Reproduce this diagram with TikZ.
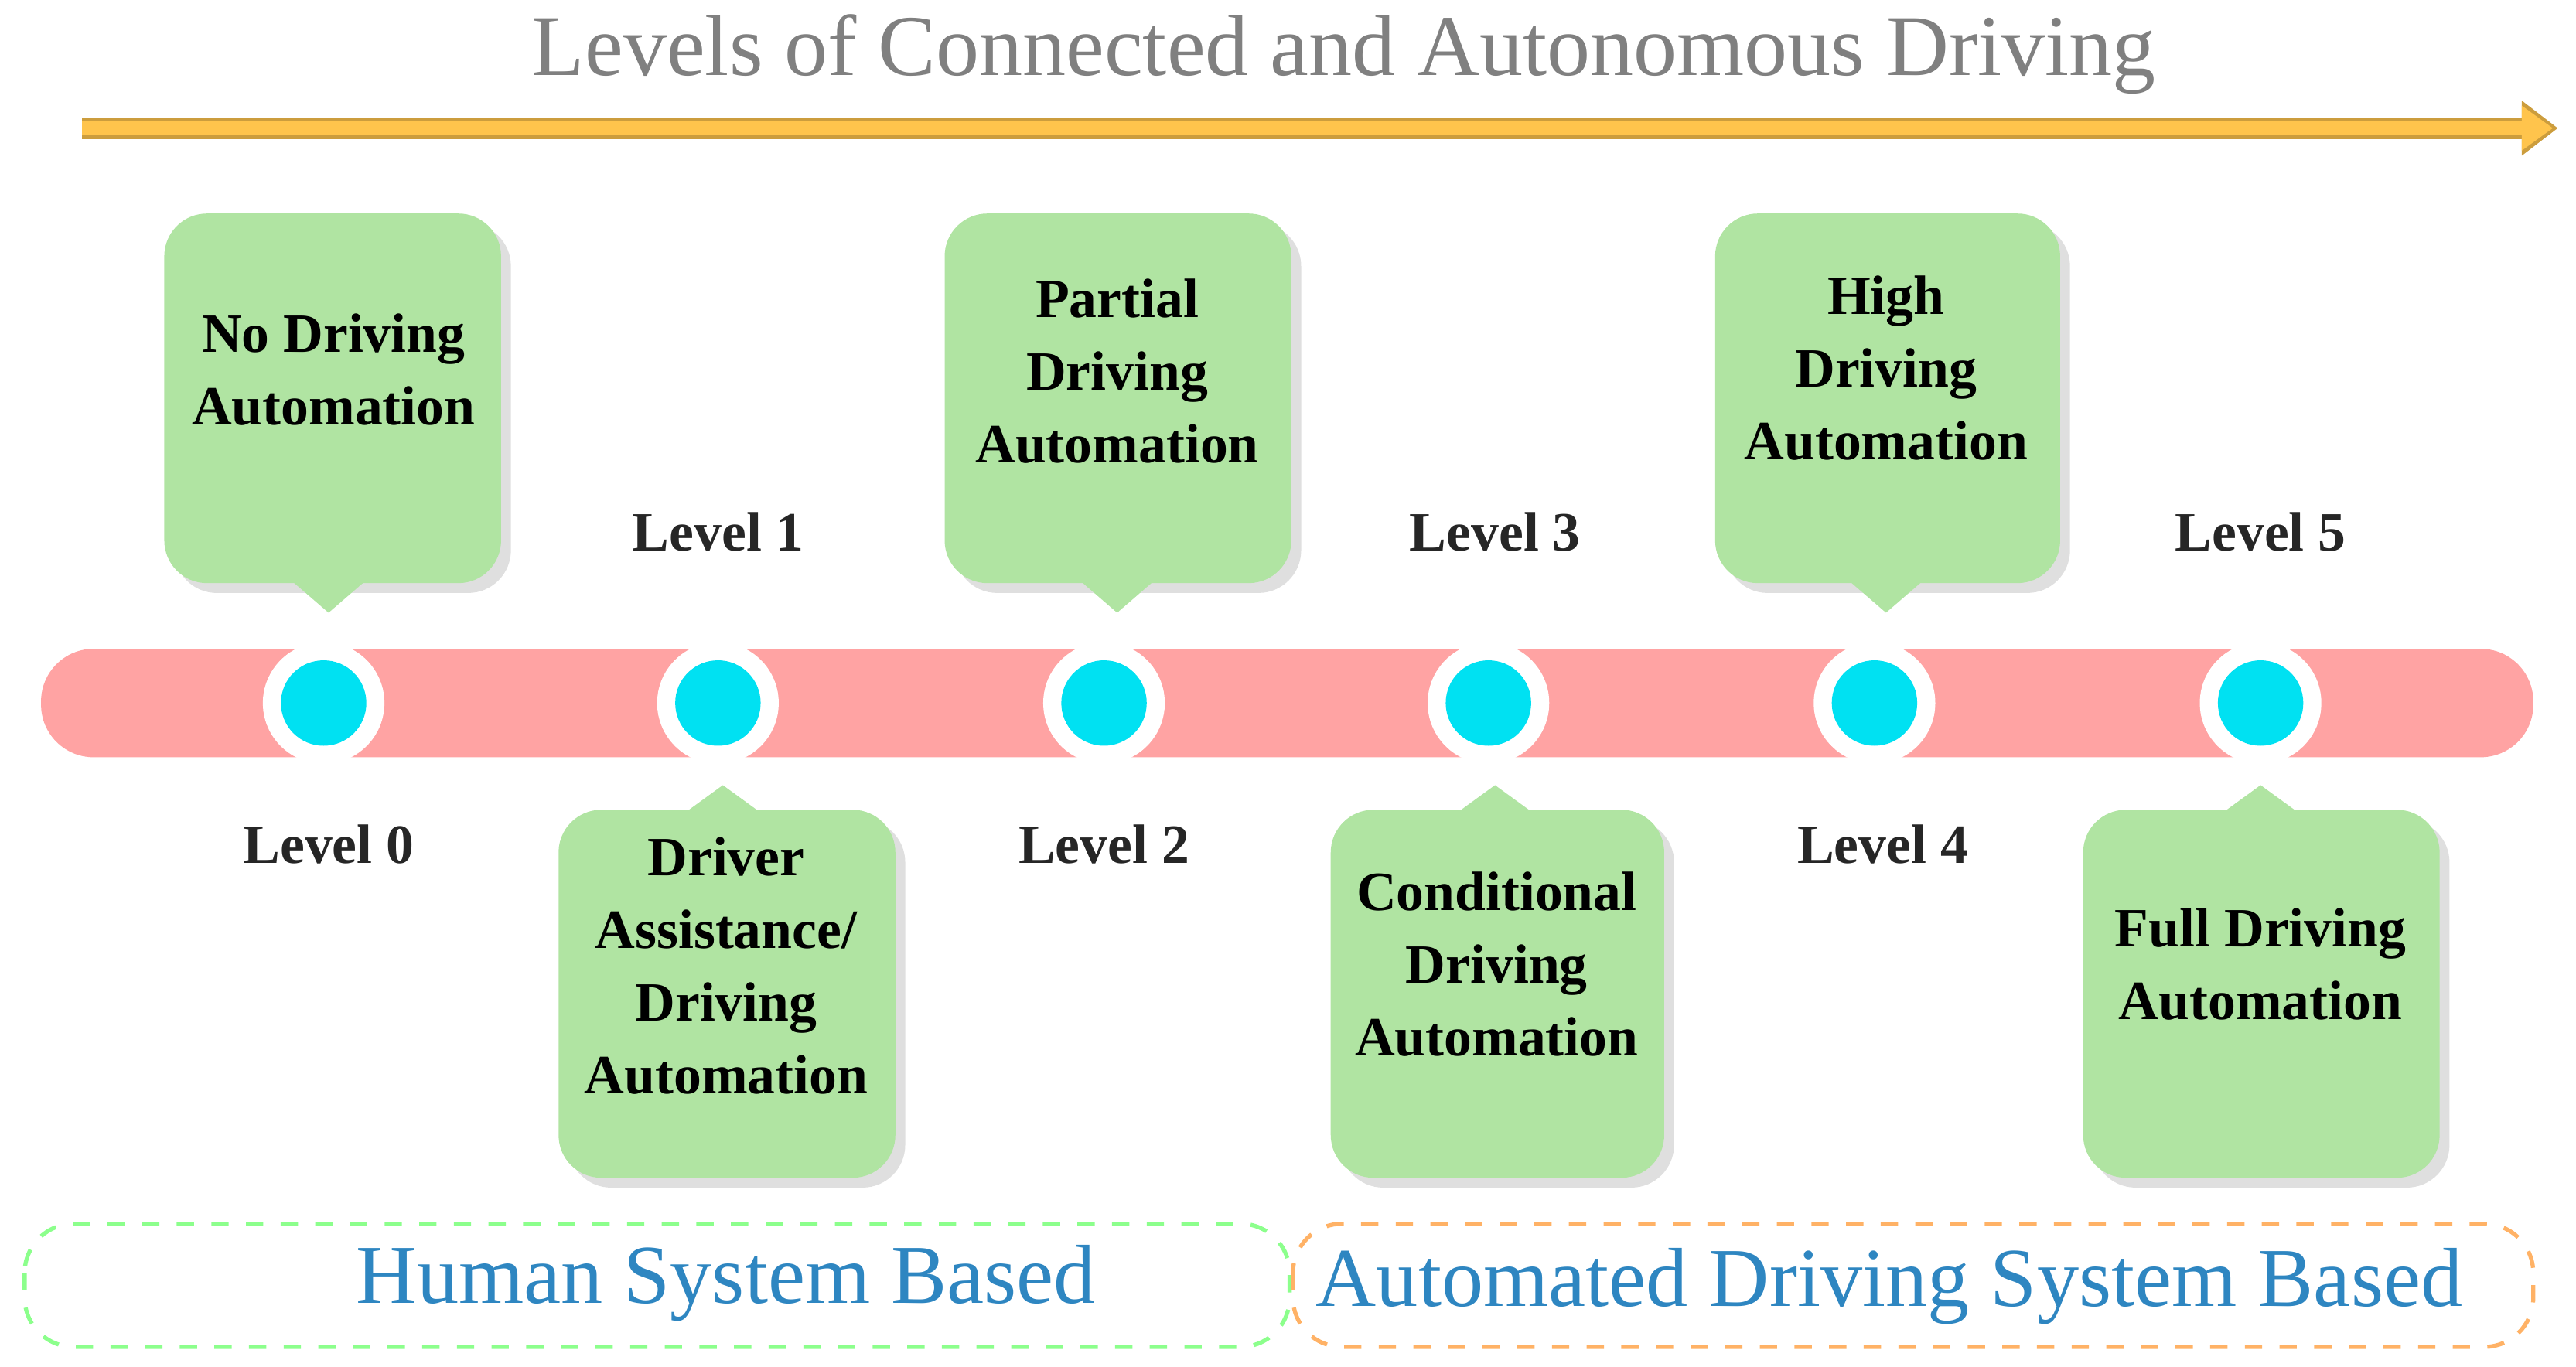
\documentclass[tikz,border=0pt]{standalone}
\usepackage{fontspec}
\setmainfont{Liberation Serif}
\usetikzlibrary{shadows,arrows.meta}
\definecolor{boxg}{HTML}{B0E4A2}
\definecolor{barp}{HTML}{FFA3A3}
\definecolor{cy}{HTML}{00E1F2}
\definecolor{arr}{HTML}{FFC44C}
\definecolor{txtb}{HTML}{2E86C1}
\tikzset{
 box/.style={fill=boxg, draw=none, drop shadow={opacity=0.25,shadow xshift=0.6mm,shadow yshift=-0.6mm}},
 btxt/.style={font=\fontsize{9.6}{10.3}\selectfont\bfseries, align=center, text=black},
 lvl/.style={font=\fontsize{9.6}{10.3}\selectfont\bfseries, text=black!85},
 ring/.style={circle, fill=white, minimum size=7.4mm, inner sep=0pt},
 dot/.style={circle, fill=cy, minimum size=5.2mm, inner sep=0pt},
 base/.style={font=\fontsize{14.5}{16}\selectfont, text=txtb}
}
\begin{document}
\begin{tikzpicture}[x=0.1mm,y=-0.1mm]
\useasboundingbox (0,0) rectangle (1568,832);
\node[font=\fontsize{15}{17}\selectfont, text=black!50] (title) at (818,33) {Levels of Connected and Autonomous Driving};
\coordinate (a1) at (50,78); \coordinate (a2) at (1557,78);
\draw[draw=arr!80!black, line width=1.3mm, -{Triangle[length=2.2mm,width=3.2mm]}] (a1) -- (a2);
\draw[draw=arr, line width=0.9mm, -{Triangle[length=1.9mm,width=2.6mm]}] (a1) -- ([xshift=-0.3mm]a2);
% bar
\fill[barp, rounded corners=3.2mm] (25,395) rectangle (1542,461);
% circles
\foreach \n/\x in {0/197,1/437,2/672,3/906,4/1141,5/1376}{
 \node[ring] (r\n) at (\x,428) {};
 \node[dot] (c\n) at (\x,428) {};
}
% top callouts
\foreach \n/\l/\r/\t in {A/100/305/200, C/575/786/680, E/1044/1254/1148}{
 \path[box, rounded corners=2.6mm] (\l,130) rectangle (\r,355);
 \fill[boxg] (\t-22,354) -- (\t,373) -- (\t+22,354) -- cycle;
}
% bottom callouts
\foreach \n/\l/\r/\t in {B/340/545/440, D/810/1013/910, F/1268/1485/1376}{
 \path[box, rounded corners=2.6mm] (\l,493) rectangle (\r,717);
 \fill[boxg] (\t-22,494) -- (\t,478) -- (\t+22,494) -- cycle;
}
\node[btxt] (t0) at (203,225) {No Driving\\[0.8mm]Automation};
\node[btxt] (t2) at (680,226) {Partial\\[0.8mm]Driving\\[0.8mm]Automation};
\node[btxt] (t4) at (1148,224) {High\\[0.8mm]Driving\\[0.8mm]Automation};
\node[btxt] (t1) at (442,588) {Driver\\[0.8mm]Assistance/\\[0.8mm]Driving\\[0.8mm]Automation};
\node[btxt] (t3) at (911,587) {Conditional\\[0.8mm]Driving\\[0.8mm]Automation};
\node[btxt] (t5) at (1376,587) {Full Driving\\[0.8mm]Automation};
% levels
\node[lvl] (l1) at (437,324) {Level 1};
\node[lvl] (l3) at (910,324) {Level 3};
\node[lvl] (l5) at (1376,324) {Level 5};
\node[lvl] (l0) at (200,514) {Level 0};
\node[lvl] (l2) at (672,514) {Level 2};
\node[lvl] (l4) at (1146,514) {Level 4};
% base boxes
\draw[green!45!white, dashed, rounded corners=3mm, line width=0.25mm] (15,745) rectangle (785,820);
\draw[orange!60!white, dashed, rounded corners=3mm, line width=0.25mm] (787,745) rectangle (1542,820);
\node[base] (h) at (442,781) {Human System Based};
\node[base] (s) at (1150,783) {Automated Driving System Based};
\end{tikzpicture}
\end{document}
